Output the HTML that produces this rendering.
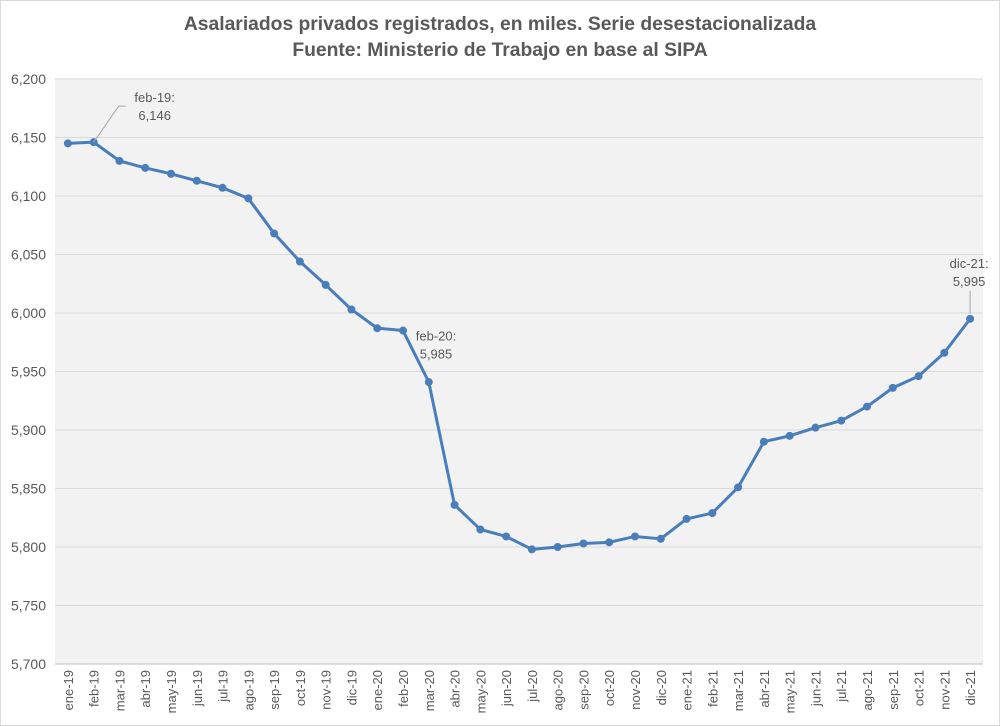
<!DOCTYPE html>
<html><head><meta charset="utf-8"><style>
body{margin:0;background:#fff;font-family:"Liberation Sans",sans-serif}
svg{display:block}
</style></head><body>
<svg width="1000" height="726" xmlns="http://www.w3.org/2000/svg">
<rect x="0.5" y="0.5" width="999" height="725" fill="#fff" stroke="#d9d9d9"/>
<text x="500" y="30" text-anchor="middle" font-size="19.3" font-weight="bold" fill="#595959">Asalariados privados registrados, en miles. Serie desestacionalizada</text>
<text x="500" y="56" text-anchor="middle" font-size="19.3" font-weight="bold" fill="#595959">Fuente: Ministerio de Trabajo en base al SIPA</text>
<rect x="55" y="79" width="928" height="585" fill="#f2f2f2"/>
<g id="grid"></g><g id="yt"></g><g id="xt"></g><g id="series"></g><g id="ann"></g>
</svg>
<script>
const categories=["ene-19","feb-19","mar-19","abr-19","may-19","jun-19","jul-19","ago-19","sep-19","oct-19","nov-19","dic-19","ene-20","feb-20","mar-20","abr-20","may-20","jun-20","jul-20","ago-20","sep-20","oct-20","nov-20","dic-20","ene-21","feb-21","mar-21","abr-21","may-21","jun-21","jul-21","ago-21","sep-21","oct-21","nov-21","dic-21"];
const values=[6145,6146,6130,6124,6119,6113,6107,6098,6068,6044,6024,6003,5987,5985,5941,5836,5815,5809,5798,5800,5803,5804,5809,5807,5824,5829,5851,5890,5895,5902,5908,5920,5936,5946,5966,5995];
const yTicks=[5700,5750,5800,5850,5900,5950,6000,6050,6100,6150,6200];
const annotations=[{i:1,label:["feb-19:","6,146"]},{i:13,label:["feb-20:","5,985"]},{i:35,label:["dic-21:","5,995"]}];
const NS="http://www.w3.org/2000/svg";
const L=55,R=983,T=79,B=664;
const x=i=>L+(R-L)/categories.length*(i+0.5);
const y=v=>B-(v-5700)/500*(B-T);
function mk(tag,attrs,parent,txt){const e=document.createElementNS(NS,tag);for(const k in attrs)e.setAttribute(k,attrs[k]);if(txt!==undefined)e.textContent=txt;document.getElementById(parent).appendChild(e);return e;}
yTicks.forEach(t=>{
  const g=mk('line',{x1:L,x2:R,y1:y(t),y2:y(t),stroke:'#d9d9d9','stroke-width':1},'grid');
  
  
  const tx=mk('text',{x:46,y:y(t)+5,'text-anchor':'end','font-size':14,fill:'#595959'},'yt',t.toLocaleString('en-US'));
  
  
});
const ax=mk('line',{x1:L,x2:R,y1:B,y2:B,stroke:'#bfbfbf'},'grid');


categories.forEach((c,i)=>{
  const tx=mk('text',{transform:`translate(${x(i)+5},670) rotate(-90)`,'text-anchor':'end','font-size':13,fill:'#595959'},'xt',c);
  
  
});
const line=mk('polyline',{points:values.map((v,i)=>x(i)+','+y(v)).join(' '),fill:'none',stroke:'#4a7ebb','stroke-width':3,'stroke-linejoin':'round'},'series');


values.forEach((v,i)=>{
  const c=mk('circle',{cx:x(i),cy:y(v),r:4,fill:'#4a7ebb'},'series');
  
  
});
annotations.forEach(a=>{
  const px=x(a.i),py=y(values[a.i]);
  let lx,ly,anchor='middle';
  if(a.i===1){lx=px+61;ly=py-40;const l=mk('polyline',{points:`${px},${py} ${px+25},${py-36} ${px+32},${py-36}`,fill:'none',stroke:'#a6a6a6'},'ann');}
  else if(a.i===13){lx=px+33;ly=py+10;}
  else{lx=px-1;ly=py-51;const l=mk('line',{x1:px,y1:py-5,x2:px,y2:py-28,stroke:'#a6a6a6'},'ann');}
  a.label.forEach((s,k)=>{
    const t=mk('text',{x:lx,y:ly+k*18,'text-anchor':anchor,'font-size':13,fill:'#595959'},'ann',s);
    
    
  });
});
</script>
</body></html>
